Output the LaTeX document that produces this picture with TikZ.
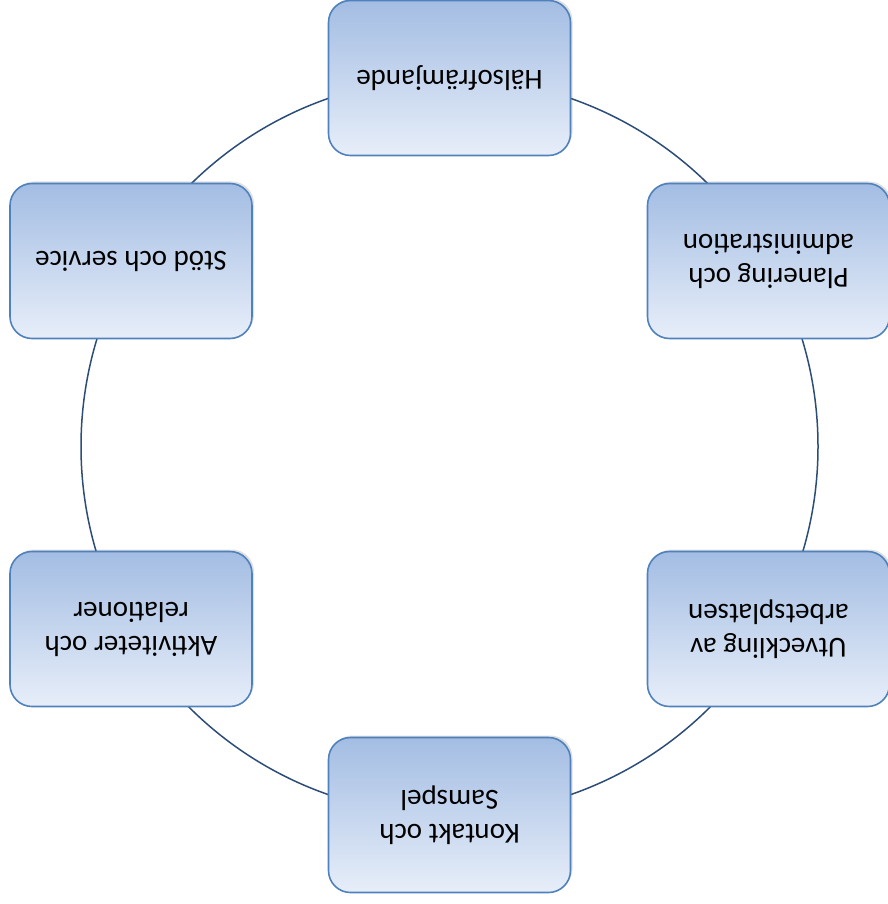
\documentclass[tikz,border=0pt]{standalone}
\usepackage{fontspec}
\setmainfont{Carlito}
\usetikzlibrary{shadows}
\definecolor{boxdark}{RGB}{163,189,227}
\definecolor{boxlight}{RGB}{231,238,249}
\definecolor{boxborder}{RGB}{79,129,189}
\definecolor{ringcol}{RGB}{44,77,120}
\tikzset{
  stepbox/.style={draw=boxborder, line width=1.6pt, rounded corners=22pt,
    minimum width=242pt, minimum height=155pt, rotate=180,
    top color=boxdark, bottom color=boxlight,
    drop shadow={shadow xshift=2pt, shadow yshift=2pt, opacity=0.2, fill=black!60},
    align=center, font=\fontsize{29}{34}\selectfont, text=black, inner sep=0pt},
  ring/.style={draw=ringcol, line width=1.5pt}
}
\begin{document}
\begin{tikzpicture}[x=1pt,y=-1pt]
\useasboundingbox (0,0) rectangle (887,904);
\coordinate (c) at (449.5,446.5);
\draw[ring] (c) circle[radius=368.5pt];
\node[stepbox] (n1) at (449.5,78) {Hälsofrämjande};
\node[stepbox] (n2) at (768.5,261) {Planering och\\administration};
\node[stepbox] (n3) at (768.5,629) {Utveckling av\\arbetsplatsen};
\node[stepbox] (n4) at (449.5,815) {Kontakt och\\Samspel};
\node[stepbox] (n5) at (131,629) {Aktiviteter och\\relationer};
\node[stepbox] (n6) at (131,261) {Stöd och service};
\end{tikzpicture}
\end{document}
